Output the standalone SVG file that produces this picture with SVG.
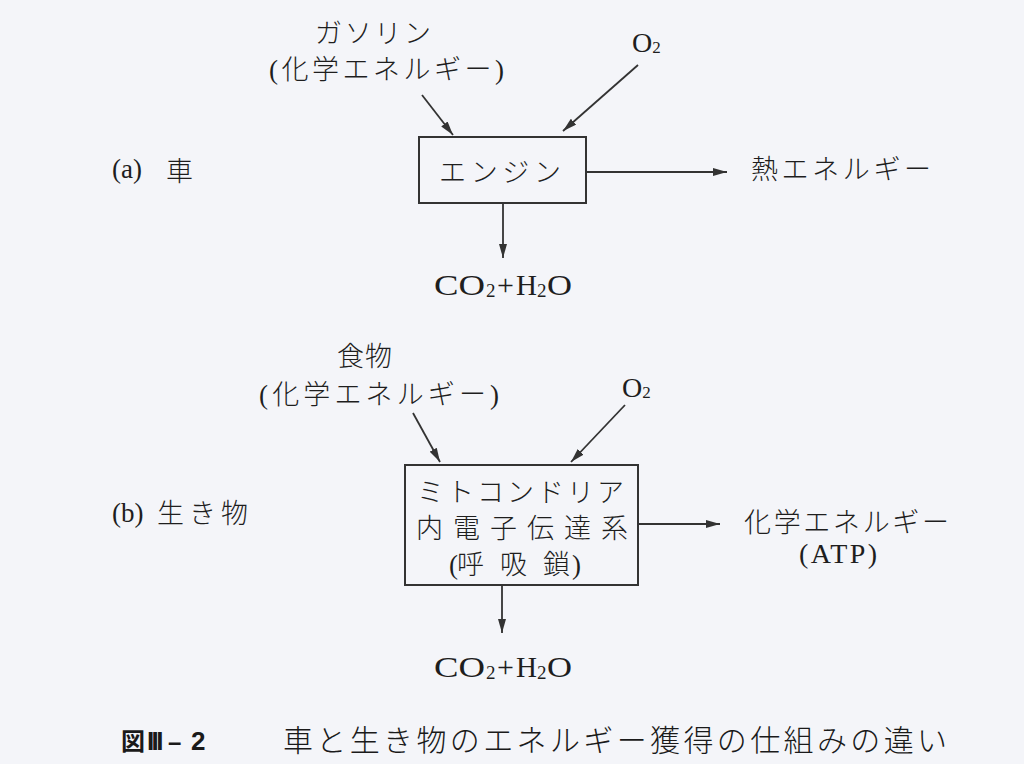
<svg xmlns="http://www.w3.org/2000/svg" width="1024" height="764" viewBox="0 0 1024 764">
<style>
.jp{font-family:"Liberation Serif","Noto Sans CJK JP",serif;font-size:27px;font-weight:300;fill:#1e1e1e}
.lat{font-family:"Liberation Serif",serif;fill:#1e1e1e}
.box{fill:none;stroke:#333;stroke-width:2}
.ln{stroke:#333;stroke-width:1.8;fill:none;marker-end:url(#ah)}
.cap{font-family:"Liberation Serif","Noto Sans CJK JP",serif;font-size:30px;font-weight:300;fill:#1a1a1a}
.capb{font-family:"Liberation Sans","Noto Sans CJK JP",sans-serif;font-weight:bold;fill:#1a1a1a}
</style>
<defs>
<marker id="ah" viewBox="0 0 14 8" refX="14" refY="4" markerWidth="14" markerHeight="8" markerUnits="userSpaceOnUse" orient="auto">
<path d="M0,0 L14,4 L0,8 Z" fill="#333"/>
</marker>
</defs>
<rect width="1024" height="764" fill="#f4f5f9"/>

<g id="connectors">
<line class="ln" x1="422" y1="95" x2="453" y2="135"/>
<line class="ln" x1="638" y1="65" x2="563" y2="131"/>
<line class="ln" x1="503" y1="204" x2="503" y2="258"/>
<line class="ln" x1="587" y1="172" x2="727" y2="172"/>
<line class="ln" x1="413" y1="413" x2="440" y2="462"/>
<line class="ln" x1="625" y1="405" x2="571" y2="462"/>
<line class="ln" x1="502" y1="586" x2="502" y2="633"/>
<line class="ln" x1="639" y1="524" x2="720" y2="524"/>
</g>

<g id="label-a">
<text class="lat" x="112" y="178" font-size="27">(a)</text>
<text class="jp" x="166" y="181" font-size="28">車</text>
</g>

<g id="gasoline">
<text class="jp" x="315" y="43" textLength="116" lengthAdjust="spacing">ガソリン</text>
<text class="jp" x="269" y="79" textLength="235" lengthAdjust="spacing">(化学エネルギー)</text>
</g>

<g id="o2-a">
<text class="lat" x="632" y="52" font-size="28">O<tspan font-size="17" dy="1">2</tspan></text>
</g>

<g id="engine">
<rect class="box" x="419" y="137" width="167" height="66"/>
<text class="jp" x="439" y="182" textLength="122" lengthAdjust="spacing">エンジン</text>
</g>

<g id="products-a" class="lat" font-size="30">
<text x="434" y="295" textLength="51" lengthAdjust="spacingAndGlyphs">CO</text>
<text x="486" y="297" font-size="19">2</text>
<text x="497" y="295">+</text>
<text x="516" y="295" textLength="21" lengthAdjust="spacingAndGlyphs">H</text>
<text x="537" y="297" font-size="19">2</text>
<text x="547" y="295" textLength="25" lengthAdjust="spacingAndGlyphs">O</text>
</g>

<g id="heat">
<text class="jp" x="751" y="179" textLength="180" lengthAdjust="spacing">熱エネルギー</text>
</g>

<g id="label-b">
<text class="lat" x="112" y="522" font-size="27">(b)</text>
<text class="jp" x="157" y="523" font-size="28" textLength="91" lengthAdjust="spacing">生き物</text>
</g>

<g id="food">
<text class="jp" x="337" y="366" textLength="55" lengthAdjust="spacing">食物</text>
<text class="jp" x="259" y="404" textLength="240" lengthAdjust="spacing">(化学エネルギー)</text>
</g>

<g id="o2-b">
<text class="lat" x="622" y="397" font-size="28">O<tspan font-size="17" dy="1">2</tspan></text>
</g>

<g id="mitochondria">
<rect class="box" x="405" y="465" width="233" height="120"/>
<text class="jp" x="417" y="502" textLength="207" lengthAdjust="spacing">ミトコンドリア</text>
<text class="jp" x="416" y="538" textLength="212" lengthAdjust="spacing">内電子伝達系</text>
<text class="jp" y="574"><tspan x="449">(</tspan><tspan x="457">呼</tspan><tspan x="500">吸</tspan><tspan x="543">鎖</tspan><tspan x="572">)</tspan></text>
</g>

<g id="products-b" class="lat" font-size="30">
<text x="434" y="677" textLength="51" lengthAdjust="spacingAndGlyphs">CO</text>
<text x="486" y="679" font-size="19">2</text>
<text x="497" y="677">+</text>
<text x="516" y="677" textLength="21" lengthAdjust="spacingAndGlyphs">H</text>
<text x="537" y="679" font-size="19">2</text>
<text x="547" y="677" textLength="25" lengthAdjust="spacingAndGlyphs">O</text>
</g>

<g id="atp">
<text class="jp" x="744" y="532" textLength="205" lengthAdjust="spacing">化学エネルギー</text>
<text class="lat" x="799" y="563" font-size="28" textLength="78" lengthAdjust="spacing">(ATP)</text>
</g>

<g id="caption">
<text class="capb" x="121" y="750" font-size="24">図</text>
<text class="capb" x="147" y="750" font-size="26" font-weight="normal" letter-spacing="-2.6">III</text>
<text class="capb" x="168" y="750" font-size="24">–</text>
<text class="capb" x="191" y="750" font-size="26">2</text>
<text class="cap" x="283" y="751" textLength="664" lengthAdjust="spacing">車と生き物のエネルギー獲得の仕組みの違い</text>
</g>
</svg>
